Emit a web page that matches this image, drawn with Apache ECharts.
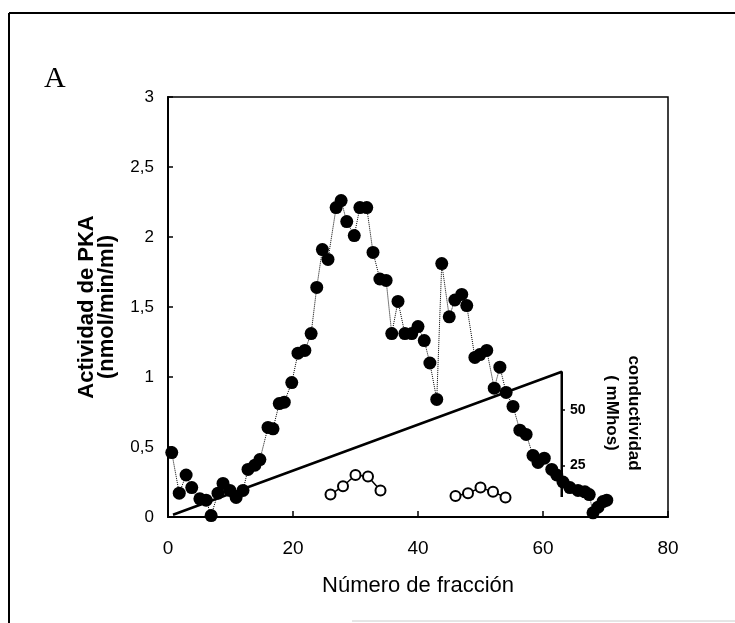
<!DOCTYPE html>
<html>
<head>
<meta charset="utf-8">
<script src="https://cdn.jsdelivr.net/npm/echarts@6/dist/echarts.min.js"></script>
<style>
html,body{margin:0;padding:0;background:#fff;}
#chart{width:735px;height:623px;}
</style>
</head>
<body>
<div id="chart"></div>
<script>
// Filled circles: PKA activity (fraction, nmol/min/ml)
const pkaFraction = [0.6,1.8,2.9,3.8,5.1,6.1,6.9,8,8.8,9.9,10.9,12,12.8,13.9,14.7,16,16.8,17.8,18.6,19.8,20.8,21.9,22.9,23.8,24.7,25.6,26.9,27.7,28.6,29.8,30.7,31.8,32.8,33.9,34.9,35.8,36.8,37.9,39,40,41,41.9,43,43.8,45,45.9,47,47.8,49.1,49.9,51,52.2,53.1,54.1,55.2,56.3,57.3,58.4,59.2,60.2,61.4,62.2,63.2,64.3,65.6,66.7,67.4,68,68.8,69.6,70.2];
const pkaActivity = [0.46,0.17,0.30,0.21,0.13,0.12,0.01,0.17,0.24,0.19,0.14,0.19,0.34,0.37,0.41,0.64,0.63,0.81,0.82,0.96,1.17,1.19,1.31,1.64,1.91,1.84,2.21,2.26,2.11,2.01,2.21,2.21,1.89,1.70,1.69,1.31,1.54,1.31,1.31,1.36,1.26,1.10,0.84,1.81,1.43,1.55,1.59,1.51,1.14,1.16,1.19,0.92,1.07,0.89,0.79,0.62,0.59,0.44,0.39,0.42,0.34,0.30,0.25,0.21,0.19,0.18,0.16,0.03,0.07,0.11,0.12];
// Open circles (two small peaks)
const openFractionA = [26,28,30,32,34];
const openValuesA = [0.16,0.22,0.30,0.29,0.19];
const openFractionB = [46,48,50,52,54];
const openValuesB = [0.15,0.17,0.21,0.18,0.14];
// Conductivity gradient (mMhos)
const condFraction = [0.8,63,63];
const condValues = [3,67,11];
// Tick labels
const xTicks = [0,20,40,60,80];
const yTicks = [0,0.5,1,1.5,2,2.5,3];
const condTicks = [25,50];

const zip = (a,b)=>a.map((v,i)=>[v,b[i]]);

const chart = echarts.init(document.getElementById('chart'));
const font = 'Liberation Sans, Arial, sans-serif';
chart.setOption({
  animation:false,
  backgroundColor:'#fff',
  grid:{left:168,top:97,width:500,height:420,show:true,borderColor:'#000',borderWidth:1.5,containLabel:false},
  xAxis:{
    type:'value',min:0,max:80,interval:20,
    axisLine:{show:true,lineStyle:{color:'#000',width:2}},
    axisTick:{show:true,inside:true,length:6,lineStyle:{color:'#000',width:1.5}},
    splitLine:{show:false},
    axisLabel:{color:'#000',fontSize:19,fontFamily:font,margin:22},
    name:'Número de fracción',nameLocation:'middle',nameGap:58,
    nameTextStyle:{color:'#000',fontSize:22,fontFamily:font}
  },
  yAxis:[{
    type:'value',min:0,max:3,interval:0.5,
    axisLine:{show:true,lineStyle:{color:'#000',width:2}},
    axisTick:{show:true,inside:true,length:5,lineStyle:{color:'#000',width:1.5}},
    splitLine:{show:false},
    axisLabel:{color:'#000',fontSize:17,fontFamily:font,margin:14,formatter:v=>String(v).replace('.',',')},
    name:'Actividad de PKA\n(nmol/min/ml)',nameLocation:'middle',nameRotate:90,nameGap:51,
    nameTextStyle:{color:'#000',fontSize:22,fontWeight:'bold',fontFamily:font,lineHeight:20}
  },{
    type:'value',min:2,max:190,position:'right',offset:-106,
    axisLine:{show:false},
    axisTick:{show:true,length:3,customValues:condTicks,lineStyle:{color:'#000',width:1.5}},
    splitLine:{show:false},
    axisLabel:{color:'#000',fontSize:14,fontWeight:'bold',fontFamily:font,margin:8,customValues:condTicks}
  }],
  graphic:[
    {type:'line',shape:{x1:9,y1:13,x2:9,y2:623},style:{stroke:'#000',lineWidth:2}},
    {type:'line',shape:{x1:9,y1:13,x2:735,y2:13},style:{stroke:'#000',lineWidth:2}},
    {type:'line',shape:{x1:352,y1:621,x2:735,y2:621},style:{stroke:'#ccc',lineWidth:1}},
    {type:'text',left:44,top:64,style:{text:'A',font:'30px "Liberation Serif", serif',fill:'#000'}},
    {type:'text',x:623,y:413,rotation:-Math.PI/2,style:{text:'conductividad\n( mMhos)',font:'bold 17px "Liberation Sans", Arial, sans-serif',fill:'#000',align:'center',verticalAlign:'middle',lineHeight:22}}
  ],
  series:[
    {type:'line',yAxisIndex:1,data:zip(condFraction,condValues),symbol:'none',lineStyle:{color:'#000',width:2.5},z:1},
    {type:'line',data:zip(pkaFraction,pkaActivity),symbol:'circle',symbolSize:13,itemStyle:{color:'#000'},lineStyle:{color:'#000',width:1,type:'dotted'},z:3},
    {type:'line',data:zip(openFractionA,openValuesA),symbol:'circle',symbolSize:10,itemStyle:{color:'#fff',borderColor:'#000',borderWidth:2},lineStyle:{color:'#000',width:1.5},z:4},
    {type:'line',data:zip(openFractionB,openValuesB),symbol:'circle',symbolSize:10,itemStyle:{color:'#fff',borderColor:'#000',borderWidth:2},lineStyle:{color:'#000',width:1.5},z:4}
  ]
});
</script>
</body>
</html>
